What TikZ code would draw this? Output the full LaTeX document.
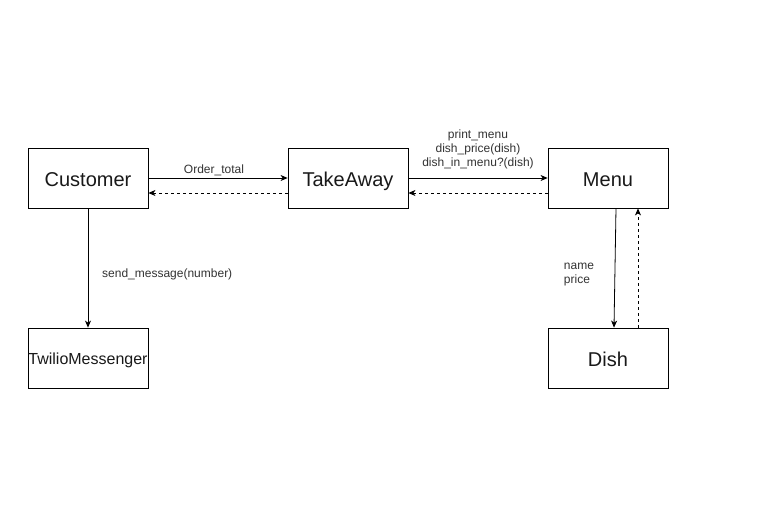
\documentclass[tikz,border=0pt]{standalone}
\usepackage{fontspec}
\setmainfont{Liberation Sans}
\usetikzlibrary{arrows.meta}
\definecolor{txtgray}{HTML}{333333}
\tikzset{
  box/.style={draw, line width=0.8pt, minimum width=120pt, minimum height=60pt,
    inner sep=0pt, text height=18pt, text depth=2pt,
    font=\fontsize{20}{24}\selectfont, text=black!90},
  lbl/.style={font=\fontsize{12}{14}\selectfont, text=txtgray, inner sep=0pt},
  conn/.style={line width=0.8pt, -{Stealth[length=7pt,width=6pt,inset=2pt]}},
  back/.style={conn, dashed, dash pattern=on 3pt off 3pt}
}
\begin{document}
\begin{tikzpicture}[x=1pt,y=-1pt]
\useasboundingbox[fill=white] (0,0) rectangle (772,512);
% boxes
\node[box] (customer) at (88,178) {Customer};
\node[box] (takeaway) at (348,178) {TakeAway};
\node[box] (menu) at (608,178) {Menu};
\node[box, font=\fontsize{16}{19}\selectfont, text height=14pt, text depth=2pt] (twilio) at (88,358) {TwilioMessenger};
\node[box] (dish) at (608,358) {Dish};
% labels
\node[lbl] (ordertotal) at (214,170) {Order\_total};
\node[lbl, align=center] (menucalls) at (478,149) {print\_menu\\dish\_price(dish)\\dish\_in\_menu?(dish)};
\node[lbl, anchor=west] (sendmsg) at (102,274) {send\_message(number)};
\node[lbl, align=left] (dishattr) at (579,275) {name\\price};
% connectors
\draw[conn] (customer.east) -- (takeaway.west);
\draw[back] ([yshift=-15pt]takeaway.west) -- ([yshift=-15pt]customer.east);
\draw[conn] (takeaway.east) -- (menu.west);
\draw[back] ([yshift=-15pt]menu.west) -- ([yshift=-15pt]takeaway.east);
\draw[conn] (customer.south) -- (twilio.north);
\draw[conn] ([xshift=8pt]menu.south) -- ([xshift=6pt]dish.north);
\draw[back] ([xshift=30pt]dish.north) -- ([xshift=30pt]menu.south);
\end{tikzpicture}
\end{document}
